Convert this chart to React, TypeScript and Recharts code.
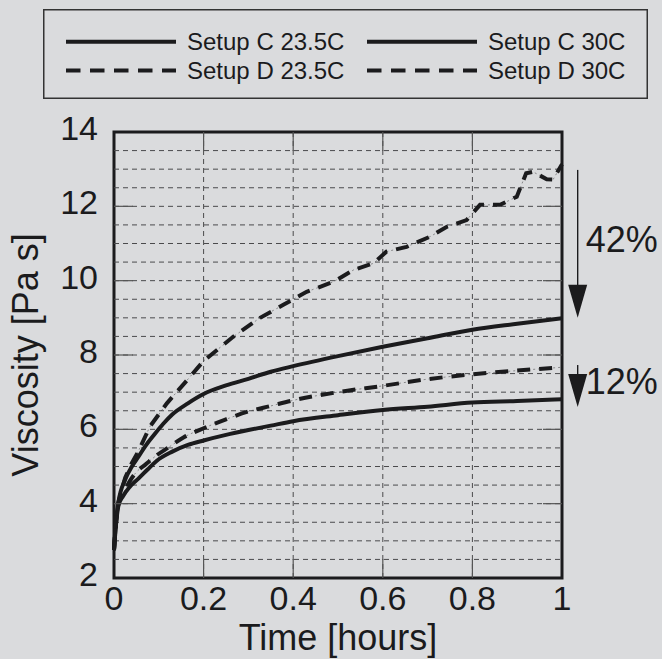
import React from "react"
import { LineChart, Line, XAxis, YAxis, CartesianGrid, ReferenceLine, ReferenceArea, Legend } from "recharts"

const W = 662
const H = 659
const PLOT = { left: 114, top: 132, right: 562, bottom: 578 }
const INK = "#1b1b1d"
const GRID = "#4a4a4c"
const BG = "#dadbdd"
const FONT = '"Liberation Sans", Arial, Helvetica, sans-serif'

const xTicks = [0, 0.2, 0.4, 0.6, 0.8, 1]
const yTicks = [2, 4, 6, 8, 10, 12, 14]

// Setup C, 23.5C
const c235Time = [0, 0.005, 0.01, 0.02, 0.035, 0.055, 0.075, 0.095, 0.13, 0.165, 0.2, 0.25, 0.3, 0.35, 0.4, 0.5, 0.6, 0.7, 0.8, 0.9, 1.0]
const c235Visc = [2.75, 3.5, 3.95, 4.2, 4.45, 4.68, 4.92, 5.15, 5.4, 5.58, 5.7, 5.85, 5.98, 6.1, 6.22, 6.38, 6.52, 6.61, 6.72, 6.76, 6.81]

// Setup C, 30C
const c30Time = [0, 0.005, 0.01, 0.025, 0.04, 0.055, 0.07, 0.09, 0.11, 0.13, 0.165, 0.2, 0.25, 0.3, 0.35, 0.4, 0.5, 0.6, 0.7, 0.8, 0.9, 1.0]
const c30Visc = [2.75, 3.6, 4.05, 4.65, 5.0, 5.27, 5.55, 5.86, 6.15, 6.4, 6.7, 6.95, 7.18, 7.36, 7.55, 7.7, 7.97, 8.22, 8.45, 8.68, 8.84, 8.99]

// Setup D, 23.5C
const d235Time = [0, 0.005, 0.01, 0.02, 0.035, 0.05, 0.07, 0.095, 0.12, 0.155, 0.2, 0.25, 0.3, 0.35, 0.4, 0.5, 0.6, 0.7, 0.8, 0.9, 1.0]
const d235Visc = [2.75, 3.55, 4.0, 4.25, 4.6, 4.85, 5.05, 5.3, 5.5, 5.78, 6.03, 6.27, 6.48, 6.63, 6.78, 7.0, 7.17, 7.35, 7.48, 7.58, 7.67]

// Setup D, 30C
const d30Time = [0, 0.005, 0.01, 0.025, 0.04, 0.054, 0.08, 0.118, 0.158, 0.2, 0.266, 0.326, 0.378, 0.43, 0.49, 0.535, 0.58, 0.608, 0.653, 0.705, 0.743, 0.787, 0.817, 0.862, 0.899, 0.92, 0.935, 0.966, 0.98, 1.0]
const d30Visc = [2.75, 3.6, 4.05, 4.7, 5.1, 5.4, 6.07, 6.7, 7.25, 7.84, 8.49, 9.0, 9.35, 9.7, 9.97, 10.29, 10.47, 10.78, 10.91, 11.18, 11.45, 11.63, 12.04, 12.04, 12.26, 12.89, 12.93, 12.73, 12.72, 13.13]

// drop annotations at the right of the plot
const dropLabels = ["42%", "12%"]
const dropFrom = [12.98, 7.73]
const dropTo = [9.0, 6.6]
const dropX = 1.035

const toPoints = (t: number[], v: number[]) => t.map((time, i) => ({ time, visc: v[i] }))

const series = [
  { name: "Setup C 23.5C", data: toPoints(c235Time, c235Visc), dashed: false, curve: "monotone" },
  { name: "Setup C 30C", data: toPoints(c30Time, c30Visc), dashed: false, curve: "monotone" },
  { name: "Setup D 23.5C", data: toPoints(d235Time, d235Visc), dashed: true, curve: "monotone" },
  { name: "Setup D 30C", data: toPoints(d30Time, d30Visc), dashed: true, curve: "linear" },
]

const minorY: number[] = []
for (let v = 2.5; v < 14; v += 0.5) minorY.push(v)

function YTick(props: any) {
  const { y, payload } = props
  const v = payload.value
  const edge = v !== yTicks[0] && v !== yTicks[yTicks.length - 1]
  return (
    <g>
      <text x={PLOT.left - 16} y={y + 8} textAnchor="end" fontSize={34} fontFamily={FONT} fill={INK}>
        {v}
      </text>
      {edge && <line x1={PLOT.left} x2={PLOT.left + 19} y1={y} y2={y} stroke="#555" strokeWidth={1.2} />}
      {edge && <line x1={PLOT.right - 19} x2={PLOT.right} y1={y} y2={y} stroke="#555" strokeWidth={1.2} />}
    </g>
  )
}

function XTick(props: any) {
  const { x, payload } = props
  const v = payload.value
  const edge = v !== xTicks[0] && v !== xTicks[xTicks.length - 1]
  return (
    <g>
      <text x={x} y={PLOT.bottom + 32} textAnchor="middle" fontSize={34} fontFamily={FONT} fill={INK}>
        {v}
      </text>
      {edge && <line x1={x} x2={x} y1={PLOT.bottom - 19} y2={PLOT.bottom} stroke="#555" strokeWidth={1.2} />}
      {edge && <line x1={x} x2={x} y1={PLOT.top} y2={PLOT.top + 19} stroke="#555" strokeWidth={1.2} />}
    </g>
  )
}

function DropArrow(props: any) {
  const { x1, y1, y2, text } = props
  const head = 33
  const half = 9.5
  const mid = (y1 + y2) / 2
  return (
    <g>
      <line x1={x1} x2={x1} y1={y1} y2={y2 - head + 2} stroke={INK} strokeWidth={1.4} />
      <polygon points={`${x1 - half},${y2 - head} ${x1 + half},${y2 - head} ${x1},${y2}`} fill={INK} />
      <text x={x1 + 8} y={mid + 8} fontSize={36} fontFamily={FONT} fill={INK}>
        {text}
      </text>
    </g>
  )
}

function LegendBox() {
  const cols = [
    { lineX: 23, textX: 144 },
    { lineX: 324, textX: 445 },
  ]
  const rows = [
    { lineY: 32.7, baseY: 40.5 },
    { lineY: 61.5, baseY: 69.8 },
  ]
  return (
    <svg width={605} height={90} style={{ display: "block" }}>
      <rect x={0.75} y={0.75} width={603.5} height={88.5} fill="none" stroke="#333" strokeWidth={1.5} />
      {series.map((s, i) => {
        const c = cols[i % 2]
        const r = rows[Math.floor(i / 2)]
        return (
          <g key={s.name}>
            <line
              x1={c.lineX}
              x2={c.lineX + 110}
              y1={r.lineY}
              y2={r.lineY}
              stroke={INK}
              strokeWidth={4}
              strokeDasharray={s.dashed ? "14.5 9.5" : undefined}
            />
            <text x={c.textX} y={r.baseY} fontSize={24} fontFamily={FONT} fill={INK}>
              {s.name}
            </text>
          </g>
        )
      })}
    </svg>
  )
}

export default function App() {
  return (
    <div style={{ position: "absolute", left: 0, top: 0, width: W, height: H, background: BG }}>
      <LineChart
        width={W}
        height={H}
        margin={{ top: PLOT.top, right: W - PLOT.right, bottom: H - PLOT.bottom - 50, left: PLOT.left - 60 }}
      >
        <CartesianGrid vertical horizontal={false} stroke={GRID} strokeDasharray="5 4" strokeWidth={1} />
        {minorY.map((v) => (
          <ReferenceLine key={v} y={v} stroke={GRID} strokeDasharray="5 4" strokeWidth={1} />
        ))}
        <XAxis
          type="number"
          dataKey="time"
          domain={[0, 1]}
          ticks={xTicks}
          height={50}
          axisLine={false}
          tickLine={false}
          tick={<XTick />}
          interval={0}
          label={{
            content: (p: any) => {
              const vb = p.viewBox
              return (
                <text x={vb.x + vb.width / 2} y={PLOT.bottom + 72} textAnchor="middle" fontSize={36} fontFamily={FONT} fill={INK}>
                  Time [hours]
                </text>
              )
            },
          }}
        />
        <YAxis
          type="number"
          domain={[2, 14]}
          ticks={yTicks}
          width={60}
          axisLine={false}
          tickLine={false}
          tick={<YTick />}
          interval={0}
          label={{
            content: () => (
              <text
                x={38}
                y={(PLOT.top + PLOT.bottom) / 2}
                transform={`rotate(-90, 38, ${(PLOT.top + PLOT.bottom) / 2})`}
                textAnchor="middle"
                fontSize={36}
                fontFamily={FONT}
                fill={INK}
              >
                Viscosity [Pa s]
              </text>
            ),
          }}
        />
        {series
          .filter((s) => s.dashed)
          .map((s) => (
            <Line
              key={s.name + "-thin"}
              data={s.data}
              dataKey="visc"
              type={s.curve as any}
              stroke={INK}
              strokeOpacity={0.55}
              strokeWidth={0.8}
              strokeDasharray="2 3"
              dot={false}
              activeDot={false}
              legendType="none"
              isAnimationActive={false}
            />
          ))}
        {series.map((s) => (
          <Line
            key={s.name}
            name={s.name}
            data={s.data}
            dataKey="visc"
            type={s.curve as any}
            stroke={INK}
            strokeWidth={4}
            strokeDasharray={s.dashed ? "13 9" : undefined}
            dot={false}
            activeDot={false}
            isAnimationActive={false}
          />
        ))}
        <ReferenceArea x1={0} x2={1} y1={2} y2={14} fill="none" stroke={INK} strokeWidth={3} />
        {dropLabels.map((label, i) => (
          <ReferenceLine
            key={label}
            segment={[
              { x: dropX, y: dropFrom[i] },
              { x: dropX, y: dropTo[i] },
            ]}
            ifOverflow="visible"
            shape={(p: any) => <DropArrow {...p} text={label} />}
          />
        ))}
        <Legend
          layout="horizontal"
          verticalAlign="middle"
          align="center"
          wrapperStyle={{ top: 9, left: 43, width: 605, height: 90 }}
          content={() => <LegendBox />}
        />
      </LineChart>
    </div>
  )
}
